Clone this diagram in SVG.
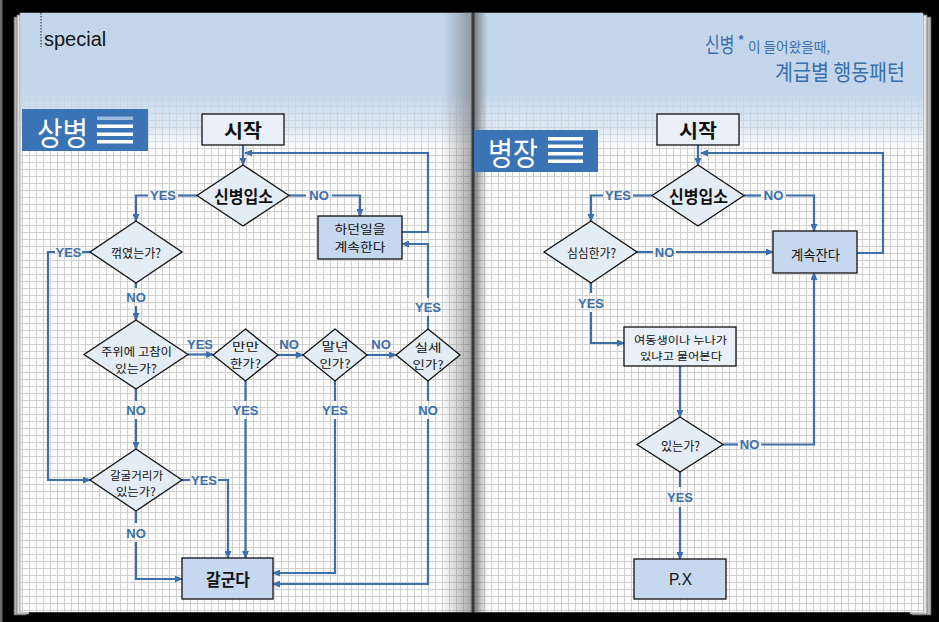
<svg xmlns="http://www.w3.org/2000/svg" width="939" height="622" viewBox="0 0 939 622">
<style>
.ko{font-family:"Noto Sans CJK KR","Noto Sans",sans-serif;fill:#111;text-anchor:middle;dominant-baseline:central}
.b{font-weight:bold}
.lbl{font-family:"Liberation Sans",Arial,sans-serif;font-weight:bold;font-size:13px;fill:#3d6faa;text-anchor:middle;dominant-baseline:central}
.dia{fill:#e4ecf6;stroke:#111;stroke-width:1.3}
.boxd{fill:#c5d8ef;stroke:#111;stroke-width:1.3}
.boxl{fill:#eaf0f9;stroke:#111;stroke-width:1.3}
.con path{fill:none;stroke:#3d70ab;stroke-width:2.2}
.tab{fill:#3a74b4}
.ttl{font-family:"Noto Sans CJK KR",sans-serif;fill:#3a6ea8}
</style>
<defs>
<pattern id="grid" width="7" height="7" patternUnits="userSpaceOnUse" x="1" y="1">
<rect width="7" height="7" fill="#fcfcfc"/>
<path d="M0.5 0V7M0 0.5H7" stroke="#d0d0d0" stroke-width="1"/>
</pattern>
<linearGradient id="hdr" x1="0" y1="0" x2="0" y2="1">
<stop offset="0" stop-color="#c3d6ec" stop-opacity="1"/>
<stop offset="0.58" stop-color="#c3d6ec" stop-opacity="1"/>
<stop offset="0.66" stop-color="#c3d6ec" stop-opacity="0.8"/>
<stop offset="0.85" stop-color="#c8daee" stop-opacity="0.55"/>
<stop offset="0.95" stop-color="#eef3fa" stop-opacity="0.4"/>
<stop offset="1" stop-color="#ffffff" stop-opacity="0"/>
</linearGradient>
<linearGradient id="gutL" x1="0" y1="0" x2="1" y2="0">
<stop offset="0" stop-color="#777" stop-opacity="0"/>
<stop offset="1" stop-color="#666" stop-opacity="0.55"/>
</linearGradient>
<linearGradient id="gutR" x1="0" y1="0" x2="1" y2="0">
<stop offset="0" stop-color="#555" stop-opacity="0.75"/>
<stop offset="1" stop-color="#777" stop-opacity="0"/>
</linearGradient>
<marker id="ah" markerWidth="8" markerHeight="7" refX="7" refY="3.5" orient="auto" markerUnits="userSpaceOnUse">
<path d="M0,0 L8,3.5 L0,7 z" fill="#3d70ab"/>
</marker>
</defs>

<!-- background and pages -->
<rect x="0" y="0" width="939" height="622" fill="#000"/>
<rect x="0" y="0" width="2.5" height="622" fill="#6a6a6a"/>
<g id="pages">
<rect x="14" y="17" width="12" height="598" fill="#b5b5b5" stroke="#555" stroke-width="0.8"/>
<rect x="17" y="15" width="12" height="599" fill="#e2e2e2" stroke="#777" stroke-width="0.8"/>
<rect x="20" y="13" width="452" height="599" fill="#fbfbfb" stroke="#888" stroke-width="0.8"/>
<rect x="912" y="17" width="19" height="598" fill="#b5b5b5" stroke="#555" stroke-width="0.8"/>
<rect x="910" y="15" width="17" height="599" fill="#e2e2e2" stroke="#777" stroke-width="0.8"/>
<rect x="474" y="13" width="449" height="599" fill="#fbfbfb" stroke="#888" stroke-width="0.8"/>
<rect x="21" y="90" width="451" height="522" fill="url(#grid)"/>
<rect x="474" y="90" width="449" height="522" fill="url(#grid)"/>
<rect x="21" y="13" width="451" height="137" fill="url(#hdr)"/>
<rect x="474" y="13" width="449" height="137" fill="url(#hdr)"/>
<rect x="442" y="13" width="30" height="599" fill="url(#gutL)"/>
<rect x="474" y="13" width="14" height="599" fill="url(#gutR)"/>
<rect x="471.5" y="13" width="3" height="599" fill="#3a3a3a"/>
</g>

<!-- header texts -->
<g id="header">
<line x1="41" y1="13" x2="41" y2="47" stroke="#222" stroke-width="1" stroke-dasharray="1.5,1.5"/>
<text x="44" y="46" font-family="Liberation Sans, Arial, sans-serif" font-size="20" fill="#151515">special</text>
<text class="ttl" transform="translate(705,52) scale(0.76,1)" font-size="21">신병</text>
<text x="738.5" y="44" font-family="Liberation Sans, Arial, sans-serif" font-size="13" font-weight="bold" fill="#3a6ea8">*</text>
<text class="ttl" x="748" y="52" font-size="14" textLength="82" lengthAdjust="spacingAndGlyphs">이 들어왔을때,</text>
<text class="ttl" x="775" y="80" font-size="22" textLength="130" lengthAdjust="spacingAndGlyphs">계급별 행동패턴</text>
</g>

<g id="tab-sangbyeong">
<rect class="tab" x="22" y="109" width="126" height="42"/>
<text x="37" y="131" font-family="Noto Sans CJK KR, sans-serif" font-size="32" fill="#fff" dominant-baseline="central" textLength="51" lengthAdjust="spacingAndGlyphs">상병</text>
<rect x="97" y="116.5" width="36" height="3.5" fill="#9dbadf"/>
<rect x="97" y="124.5" width="36" height="3.5" fill="#fff"/>
<rect x="97" y="132.5" width="36" height="3.5" fill="#fff"/>
<rect x="97" y="140" width="36" height="3.5" fill="#fff"/>
</g>
<g id="tab-byeongjang">
<rect class="tab" x="474" y="130" width="124" height="42"/>
<text x="488" y="151" font-family="Noto Sans CJK KR, sans-serif" font-size="32" fill="#fff" dominant-baseline="central" textLength="50" lengthAdjust="spacingAndGlyphs">병장</text>
<rect x="548" y="137" width="35" height="3.5" fill="#fff"/>
<rect x="548" y="144.5" width="35" height="3.5" fill="#fff"/>
<rect x="548" y="152" width="35" height="3.5" fill="#fff"/>
<rect x="548" y="159.5" width="35" height="3.5" fill="#fff"/>
</g>

<!-- connectors -->
<g id="connectors" class="con">
<!-- left -->
<path d="M243 145V165" marker-end="url(#ah)"/>
<path d="M402 232H428V153H245" marker-end="url(#ah)"/>
<path d="M197 195.5H178"/>
<path d="M148 195.5H136V221" marker-end="url(#ah)"/>
<path d="M289 195.5H306"/>
<path d="M332 195.5H360V216" marker-end="url(#ah)"/>
<path d="M90 252H82"/>
<path d="M55 252H48V480H90" marker-end="url(#ah)"/>
<path d="M136 283V288"/>
<path d="M136 306V320" marker-end="url(#ah)"/>
<path d="M188 354.5H213" marker-end="url(#ah)"/>
<path d="M278 355H303" marker-end="url(#ah)"/>
<path d="M367 355H396" marker-end="url(#ah)"/>
<path d="M428 329V316"/>
<path d="M428 298V244H402" marker-end="url(#ah)"/>
<path d="M428 381V401"/>
<path d="M428 419V584H273" marker-end="url(#ah)"/>
<path d="M335 381V401"/>
<path d="M335 419V573H273" marker-end="url(#ah)"/>
<path d="M245.5 381V401"/>
<path d="M245.5 419V558" marker-end="url(#ah)"/>
<path d="M136 389V401"/>
<path d="M136 419V449" marker-end="url(#ah)"/>
<path d="M182 480H190"/>
<path d="M218 480H228V558" marker-end="url(#ah)"/>
<path d="M136 511V523"/>
<path d="M136 542V579H182" marker-end="url(#ah)"/>
<!-- right -->
<path d="M698 145V165" marker-end="url(#ah)"/>
<path d="M857 253H883V153H701" marker-end="url(#ah)"/>
<path d="M652 195.5H633"/>
<path d="M603 195.5H591V221" marker-end="url(#ah)"/>
<path d="M744 195.5H761"/>
<path d="M786 195.5H814V231" marker-end="url(#ah)"/>
<path d="M637 252H653"/>
<path d="M676 252H773" marker-end="url(#ah)"/>
<path d="M591 283V293"/>
<path d="M591 312V343H624" marker-end="url(#ah)"/>
<path d="M680 366V417" marker-end="url(#ah)"/>
<path d="M723 444.5H738"/>
<path d="M761 444.5H814V273" marker-end="url(#ah)"/>
<path d="M680 472V487"/>
<path d="M680 507V559" marker-end="url(#ah)"/>
</g>

<!-- connector labels -->
<g id="labels">
<text class="lbl" x="163" y="195.5">YES</text>
<text class="lbl" x="319" y="195.5">NO</text>
<text class="lbl" x="68.5" y="252">YES</text>
<text class="lbl" x="136" y="297">NO</text>
<text class="lbl" x="200" y="344">YES</text>
<text class="lbl" x="289" y="344">NO</text>
<text class="lbl" x="381" y="344">NO</text>
<text class="lbl" x="428" y="307">YES</text>
<text class="lbl" x="428" y="410">NO</text>
<text class="lbl" x="335" y="410">YES</text>
<text class="lbl" x="245.5" y="410">YES</text>
<text class="lbl" x="136" y="410">NO</text>
<text class="lbl" x="204" y="480">YES</text>
<text class="lbl" x="136" y="533">NO</text>
<text class="lbl" x="618" y="195.5">YES</text>
<text class="lbl" x="773.5" y="195.5">NO</text>
<text class="lbl" x="664.5" y="252">NO</text>
<text class="lbl" x="591" y="303">YES</text>
<text class="lbl" x="749.5" y="444.5">NO</text>
<text class="lbl" x="680" y="497">YES</text>
</g>

<!-- left nodes -->
<g id="start-left">
<rect class="boxl" x="202" y="114" width="82" height="31"/>
<text class="ko b" x="243" y="129.5" font-size="19" textLength="38" lengthAdjust="spacingAndGlyphs">시작</text>
</g>
<g id="entry-left">
<polygon class="dia" points="243,165 289,195.5 243,226 197,195.5"/>
<text class="ko b" x="243.5" y="195.5" font-size="17" textLength="59" lengthAdjust="spacingAndGlyphs">신병입소</text>
</g>
<g id="keep-working">
<rect class="boxd" x="318" y="216" width="84" height="43"/>
<text class="ko" font-size="12.2"><tspan x="360" y="229.3" textLength="51" lengthAdjust="spacingAndGlyphs">하던일을</tspan><tspan x="360" y="247.3" textLength="51" lengthAdjust="spacingAndGlyphs">계속한다</tspan></text>
</g>
<g id="bent">
<polygon class="dia" points="136,221 182,252 136,283 90,252"/>
<text class="ko" x="136" y="252.5" font-size="12.5" textLength="50" lengthAdjust="spacingAndGlyphs">꺾였는가?</text>
</g>
<g id="senior-around">
<polygon class="dia" points="136,320 188,354.5 136,389 84,354.5"/>
<text class="ko" font-size="11.6"><tspan x="136.5" y="350.5" textLength="71" lengthAdjust="spacingAndGlyphs">주위에 고참이</tspan><tspan x="136" y="367.5" textLength="42" lengthAdjust="spacingAndGlyphs">있는가?</tspan></text>
</g>
<g id="easy">
<polygon class="dia" points="245.5,329 278,355 245.5,381 213,355"/>
<text class="ko" font-size="11.5"><tspan x="245.5" y="346" textLength="27" lengthAdjust="spacingAndGlyphs">만만</tspan><tspan x="245.5" y="363" textLength="31" lengthAdjust="spacingAndGlyphs">한가?</tspan></text>
</g>
<g id="last-term">
<polygon class="dia" points="335,329 367,355 335,381 303,355"/>
<text class="ko" font-size="11.5"><tspan x="335" y="346" textLength="27" lengthAdjust="spacingAndGlyphs">말년</tspan><tspan x="335" y="363" textLength="31" lengthAdjust="spacingAndGlyphs">인가?</tspan></text>
</g>
<g id="power">
<polygon class="dia" points="428,329 460,355 428,381 396,355"/>
<text class="ko" font-size="11.5"><tspan x="428" y="346.5" textLength="27" lengthAdjust="spacingAndGlyphs">실세</tspan><tspan x="428" y="363.5" textLength="31" lengthAdjust="spacingAndGlyphs">인가?</tspan></text>
</g>
<g id="harass-target">
<polygon class="dia" points="136,449 182,480 136,511 90,480"/>
<text class="ko" font-size="10.9"><tspan x="136.5" y="474.5" textLength="53" lengthAdjust="spacingAndGlyphs">갈굴거리가</tspan><tspan x="136" y="490.5" textLength="40" lengthAdjust="spacingAndGlyphs">있는가?</tspan></text>
</g>
<g id="haze">
<rect class="boxd" x="182" y="558" width="91" height="41"/>
<text class="ko b" x="228" y="578.5" font-size="17" textLength="44" lengthAdjust="spacingAndGlyphs">갈군다</text>
</g>

<!-- right nodes -->
<g id="start-right">
<rect class="boxl" x="657" y="114" width="82" height="31"/>
<text class="ko b" x="698" y="129.5" font-size="19" textLength="38" lengthAdjust="spacingAndGlyphs">시작</text>
</g>
<g id="entry-right">
<polygon class="dia" points="698,165 744,195.5 698,226 652,195.5"/>
<text class="ko b" x="698.5" y="195.5" font-size="17" textLength="59" lengthAdjust="spacingAndGlyphs">신병입소</text>
</g>
<g id="keep-sleeping">
<rect class="boxd" x="773" y="231" width="84" height="42"/>
<text class="ko" x="815.5" y="253.5" font-size="14" textLength="49" lengthAdjust="spacingAndGlyphs">계속잔다</text>
</g>
<g id="bored">
<polygon class="dia" points="591,221 637,252 591,283 544,252"/>
<text class="ko" x="591.5" y="252.5" font-size="12.5" textLength="49" lengthAdjust="spacingAndGlyphs">심심한가?</text>
</g>
<g id="ask-sister">
<rect class="boxl" x="624" y="327" width="112" height="39"/>
<text class="ko" font-size="10.7"><tspan x="680.5" y="339.3" textLength="93" lengthAdjust="spacingAndGlyphs">여동생이나 누나가</tspan><tspan x="681" y="355" textLength="82" lengthAdjust="spacingAndGlyphs">있냐고 물어본다</tspan></text>
</g>
<g id="has-one">
<polygon class="dia" points="680,417 723,444.5 680,472 637,444.5"/>
<text class="ko" x="680.5" y="445" font-size="12.5" textLength="39" lengthAdjust="spacingAndGlyphs">있는가?</text>
</g>
<g id="px">
<rect class="boxd" x="634" y="559" width="92" height="40"/>
<text x="680.5" y="579" font-family="Liberation Sans, Arial, sans-serif" font-size="16.5" fill="#111" text-anchor="middle" dominant-baseline="central" textLength="23" lengthAdjust="spacingAndGlyphs">P.X</text>
</g>
</svg>
